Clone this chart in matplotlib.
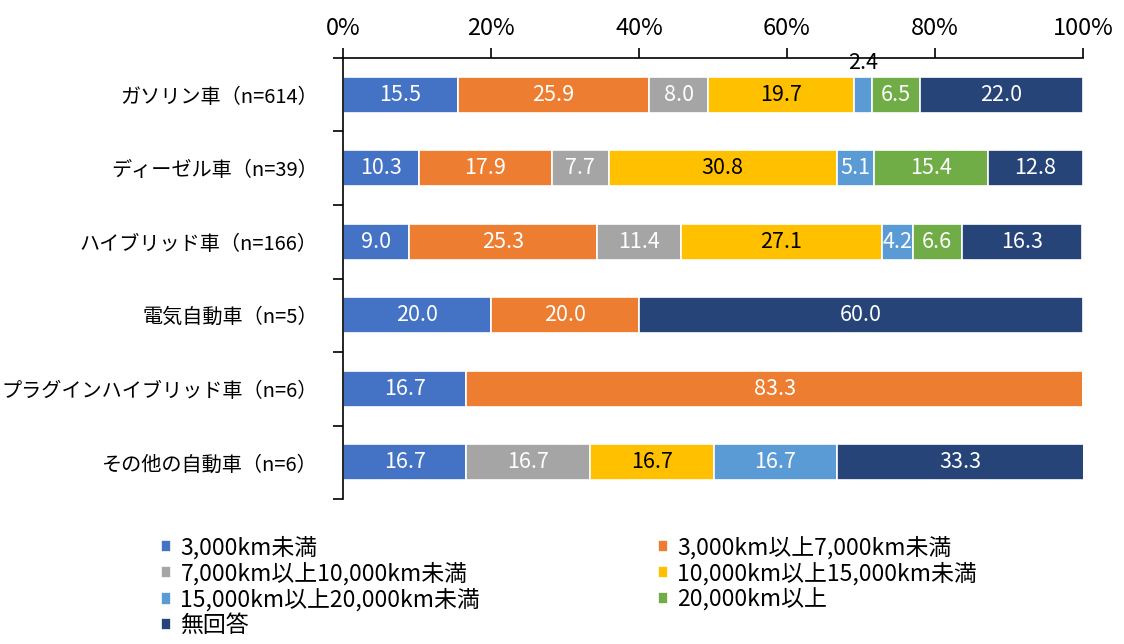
import numpy as np
import matplotlib
matplotlib.use("Agg")
import matplotlib.pyplot as plt
from matplotlib.ticker import FixedLocator

plt.rcParams['font.family'] = ['Noto Sans CJK JP', 'DejaVu Sans']

# data
categories = ['ガソリン車（n=614）', 'ディーゼル車（n=39）', 'ハイブリッド車（n=166）',
              '電気自動車（n=5）', 'プラグインハイブリッド車（n=6）', 'その他の自動車（n=6）']
series_names = ['3,000km未満', '3,000km以上7,000km未満', '7,000km以上10,000km未満',
                '10,000km以上15,000km未満', '15,000km以上20,000km未満', '20,000km以上', '無回答']
s1 = [15.5, 10.3, 9.0, 20.0, 16.7, 16.7]
s2 = [25.9, 17.9, 25.3, 20.0, 83.3, 0.0]
s3 = [8.0, 7.7, 11.4, 0.0, 0.0, 16.7]
s4 = [19.7, 30.8, 27.1, 0.0, 0.0, 16.7]
s5 = [2.4, 5.1, 4.2, 0.0, 0.0, 16.7]
s6 = [6.5, 15.4, 6.6, 0.0, 0.0, 0.0]
s7 = [22.0, 12.8, 16.3, 60.0, 0.0, 33.3]
series = [s1, s2, s3, s4, s5, s6, s7]
colors = ['#4472C4', '#ED7D31', '#A5A5A5', '#FFC000', '#5B9BD5', '#70AD47', '#264478']
text_colors = ['white', 'white', 'white', 'black', 'white', 'white', 'white']

fig = plt.figure(figsize=(11.24, 6.44), dpi=100)
ax = fig.add_axes([0.305, 0.225, 0.6585, 0.685])

y = np.arange(len(categories))
left = np.zeros(len(categories))
handles = []
for vals, c, tc, name in zip(series, colors, text_colors, series_names):
    vals = np.array(vals)
    bars = ax.barh(y, vals, left=left, height=0.49, color=c, edgecolor='white',
                   linewidth=1.2, label=name)
    handles.append(bars)
    for yi, v, l in zip(y, vals, left):
        if v <= 0:
            continue
        if v < 3:
            # small segment: label sits above the bar
            ax.text(l + v / 2, yi - 0.28, f'{v:.1f}', ha='center', va='bottom',
                    color='black', fontsize=15.5)
        else:
            ax.text(l + v / 2, yi, f'{v:.1f}', ha='center', va='center',
                    color=tc, fontsize=15.5)
    left += vals

ax.set_xlim(0, 100)
ax.set_ylim(len(categories) - 0.5, -0.5)
ax.xaxis.tick_top()
ax.set_xticks(np.arange(0, 101, 20))
ax.set_xticklabels([f'{v}%' for v in range(0, 101, 20)])
ax.tick_params(axis='x', direction='out', length=7, width=1.2, labelsize=17, pad=6)
ax.set_yticks(y)
ax.set_yticklabels(categories)
ax.yaxis.set_minor_locator(FixedLocator(np.arange(-0.5, len(categories), 1)))
ax.tick_params(axis='y', which='major', length=0, labelsize=14.5, pad=18)
ax.tick_params(axis='y', which='minor', length=7, width=1.2)
for s in ['bottom', 'right']:
    ax.spines[s].set_visible(False)
ax.spines['top'].set_linewidth(1.2)
ax.spines['left'].set_linewidth(1.2)

# legend in two fixed columns
leg_kw = dict(loc='upper left', frameon=False, fontsize=16.5, handlelength=0.45,
              handleheight=0.45, handletextpad=0.4, labelspacing=0.12, borderpad=0)
col1 = [0, 2, 4, 6]
col2 = [1, 3, 5]
fig.legend([handles[i] for i in col1], [series_names[i] for i in col1],
           bbox_to_anchor=(0.133, 0.186), **leg_kw)
fig.legend([handles[i] for i in col2], [series_names[i] for i in col2],
           bbox_to_anchor=(0.575, 0.186), **leg_kw)

fig.savefig('out.png', dpi=100)
